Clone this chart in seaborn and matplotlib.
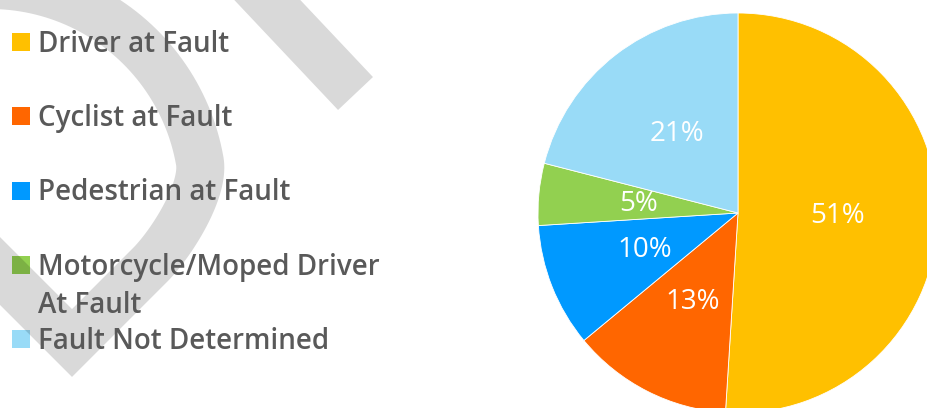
import textwrap
import numpy as np
import matplotlib
matplotlib.use("Agg")
import matplotlib.pyplot as plt
from matplotlib.patches import Rectangle, Polygon
from matplotlib.colors import to_rgb
import seaborn as sns

# ---- data -------------------------------------------------------------
categories = [
    "Driver at Fault",
    "Cyclist at Fault",
    "Pedestrian at Fault",
    "Motorcycle/Moped Driver At Fault",
    "Fault Not Determined",
]
shares = [51, 13, 10, 5, 21]
slice_colors = ["#FFC000", "#FF6600", "#0099FF", "#92D050", "#99DBF7"]

# ---- styling ----------------------------------------------------------
W, H, DPI = 928, 408, 100
TEXT_GREY = "#595959"
BAND_GREY = "#D9D9D9"

sns.set_theme(style="white")
plt.rcParams["font.family"] = ["Open Sans", "DejaVu Sans"]

fig = plt.figure(figsize=(W / DPI, H / DPI), dpi=DPI)
fig.patch.set_facecolor("white")

# Full-figure overlay measured in pixels (y grows downward)
bg = fig.add_axes([0, 0, 1, 1])
bg.set_xlim(0, W)
bg.set_ylim(H, 0)
bg.axis("off")


def band_polygon(points, half):
    """Outline of a thick stroke along a polyline, with mitred corners."""
    pts = np.asarray(points, float)
    d = np.diff(pts, axis=0)
    d /= np.linalg.norm(d, axis=1)[:, None]
    n = np.column_stack([-d[:, 1], d[:, 0]])
    left, right = [], []
    for i, p in enumerate(pts):
        if i == 0:
            m, s = n[0], 1.0
        elif i == len(pts) - 1:
            m, s = n[-1], 1.0
        else:
            m = n[i - 1] + n[i]
            m = m / np.linalg.norm(m)
            s = 1.0 / np.dot(m, n[i])
        left.append(p + m * half * s)
        right.append(p - m * half * s)
    return np.vstack([left, right[::-1]])


def cubic(p0, p1, p2, p3, k=40):
    t = np.linspace(0, 1, k)[:, None]
    p0, p1, p2, p3 = map(np.asarray, (p0, p1, p2, p3))
    return ((1 - t) ** 3) * p0 + 3 * ((1 - t) ** 2) * t * p1 + 3 * (1 - t) * t ** 2 * p2 + t ** 3 * p3


# Decorative ribbon: a broad arc that bends into a V, plus a short slash
cx, cy, R = -10.0, 198.0, 213.0
ang = np.radians(np.linspace(105, 10, 60))
arc = np.column_stack([cx + R * np.cos(ang), cy - R * np.sin(ang)])
t0 = np.radians(10)
p0 = arc[-1]
p1 = p0 + 30 * np.array([np.sin(t0), np.cos(t0)])
p3 = np.array([150.0, 265.0])
p2 = p3 - 30 * np.array([-0.7071, 0.7071])
bend = cubic(p0, p1, p2, p3)[1:]
tail = np.array([[72.0, 343.0], [-70.0, 201.0]])
ribbon = np.vstack([arc, bend, tail])

half_w = 24
shapes = [
    band_polygon(ribbon, half_w),
    band_polygon([[239.0, -30.0], [355.5, 93.5]], half_w),
]
clip_patches = []
for poly in shapes:
    bg.add_patch(Polygon(poly, closed=True, facecolor=BAND_GREY,
                         edgecolor="none", zorder=0))
    clip_patches.append(Polygon(poly, closed=True, transform=bg.transData))

# ---- legend (left column) --------------------------------------------
band_rgb = np.array(to_rgb(BAND_GREY))
box = 18
first_top, step = 33.0, 74.25
line_gap = 38
for i, (name, col) in enumerate(zip(categories, slice_colors)):
    top = first_top + i * step
    bg.add_patch(Rectangle((12, top), box, box, facecolor=col,
                           edgecolor="none", zorder=1))
    # where the ribbon crosses a swatch the colours multiply
    shaded = tuple(np.array(to_rgb(col)) * band_rgb)
    for cp in clip_patches:
        r = Rectangle((12, top), box, box, facecolor=shaded,
                      edgecolor="none", zorder=2)
        bg.add_patch(r)
        r.set_clip_path(cp)
    # long names wrap; the swatch sits beside the first line
    for k, line in enumerate(textwrap.wrap(name, 23)):
        bg.text(38, top + 19 + k * line_gap, line, color=TEXT_GREY,
                fontsize=20, fontweight="semibold", ha="left",
                va="baseline", zorder=3)

# ---- pie ---------------------------------------------------------------
pie_ax = fig.add_axes([538 / W, -5 / H, 400 / W, 400 / H])
wedges, _, pct_texts = pie_ax.pie(
    shares,
    colors=slice_colors,
    startangle=90,
    counterclock=False,
    autopct=lambda p: f"{p:.0f}%",
    pctdistance=0.5,
    wedgeprops=dict(edgecolor="white", linewidth=0.6),
    textprops=dict(color="white", fontsize=20, fontweight="medium"),
)
pie_ax.set_xlim(-1, 1)
pie_ax.set_ylim(-1, 1)
pie_ax.set_aspect("equal")
pie_ax.axis("off")

fig.savefig("out.png", dpi=DPI, facecolor="white")
